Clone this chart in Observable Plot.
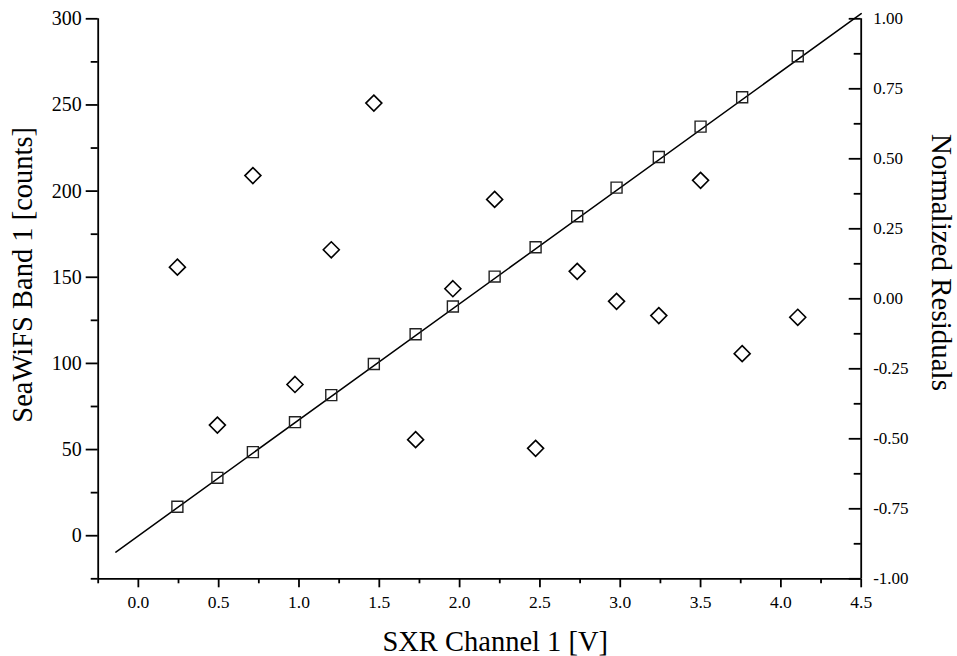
<!DOCTYPE html>
<html><head><meta charset="utf-8">
<script src="https://cdn.jsdelivr.net/npm/d3@7"></script>
<script src="https://cdn.jsdelivr.net/npm/@observablehq/plot@0.6"></script>
<style>
html,body{margin:0;padding:0;background:#fff;}
#chart svg{display:block;}
</style></head><body><div id="chart"></div>
<script>
// Data
const sxr = [0.243,0.492,0.713,0.975,1.201,1.466,1.726,1.958,2.218,2.473,2.732,2.977,3.240,3.500,3.759,4.105];
const counts = [16.8,33.6,48.5,65.9,81.6,99.7,116.9,133.0,150.4,167.4,185.4,202.0,219.8,237.4,254.5,278.3];
const residuals = [0.113,-0.451,0.440,-0.306,0.175,0.699,-0.503,0.036,0.355,-0.534,0.098,-0.009,-0.060,0.423,-0.196,-0.066];
const fitX = [-0.14, 4.5];
const fitY = [-9.5, 303];
const xTicks = [0,0.5,1,1.5,2,2.5,3,3.5,4,4.5];
const xMinor = [-0.25,0.25,0.75,1.25,1.75,2.25,2.75,3.25,3.75,4.25];
const yTicks = [0,50,100,150,200,250,300];
const yMinor = [-25,25,75,125,175,225,275];
const rTicks = [-1,-0.75,-0.5,-0.25,0,0.25,0.5,0.75,1];
const rMinor = [-0.875,-0.625,-0.375,-0.125,0.125,0.375,0.625,0.875];
const xLabel = "SXR Channel 1 [V]";
const yLabel = "SeaWiFS Band 1 [counts]";
const rLabel = "Normalized Residuals";

const points = sxr.map((x, i) => ({sxr: x, counts: counts[i], residual: residuals[i]}));
const fit = fitX.map((x, i) => ({x, y: fitY[i]}));
// residual axis [-1,1] shares the frame of the counts axis [-25,300]
const toY = d3.scaleLinear().domain([-1, 1]).range([-25, 300]);

const W = 957, H = 656;
const mL = 97.7, mR = 96.3, mT = 18.3, mB = 77.7;
const innerW = W - mL - mR;
const SW = 1.8;
const FF = "'Liberation Serif','Times New Roman',Times,serif";

const chart = Plot.plot({
  width: W, height: H,
  marginLeft: mL, marginRight: mR, marginTop: mT, marginBottom: mB,
  style: {fontFamily: FF, background: "#fff", color: "#000", overflow: "visible"},
  x: {domain: [-0.25, 4.5], axis: null},
  y: {domain: [-25, 300], axis: null},
  marks: [
    Plot.ruleX([-0.25], {strokeWidth: SW}),
    Plot.ruleX([4.5], {strokeWidth: SW}),
    Plot.ruleY([-25], {strokeWidth: SW}),
    Plot.axisY(yTicks, {tickSize: 12, tickPadding: 4.5, fontSize: 20, fontFamily: FF, tickFormat: d => String(d), strokeWidth: SW, label: null}),
    Plot.axisY(yMinor, {tickSize: 7, fill: "none", strokeWidth: SW, label: null}),
    Plot.axisX(xTicks, {tickSize: 9, tickPadding: 8, fontSize: 17.5, fontFamily: FF, tickFormat: d => d.toFixed(1), strokeWidth: SW, label: null}),
    Plot.axisX(xMinor, {tickSize: 5, fill: "none", strokeWidth: SW, label: null}),
    Plot.ruleY(rTicks, {y: d => toY(d), insetLeft: innerW - 12, strokeWidth: SW}),
    Plot.ruleY(rMinor, {y: d => toY(d), insetLeft: innerW - 7, strokeWidth: SW}),
    Plot.text(rTicks, {x: 4.5, y: d => toY(d), text: d => d.toFixed(2), textAnchor: "start", dx: 12, fontSize: 17, fontFamily: FF}),
    Plot.line(fit, {x: "x", y: "y", strokeWidth: 1.5, stroke: "#000"}),
    Plot.dot(points, {x: "sxr", y: "counts", symbol: "square", r: 6.2, stroke: "#222", strokeWidth: 1.4, fill: "none"}),
    Plot.dot(points, {x: "sxr", y: d => toY(d.residual), symbol: "diamond2", r: 7.2, stroke: "#000", strokeWidth: 1.6, fill: "none"}),
    Plot.text([xLabel], {frameAnchor: "bottom", textAnchor: "middle", dx: 15.5, dy: 72, lineAnchor: "bottom", fontSize: 28.5, fontFamily: FF}),
    Plot.text([yLabel], {frameAnchor: "left", textAnchor: "middle", rotate: -90, dx: -75.7, dy: -24, lineAnchor: "middle", fontSize: 28.5, fontFamily: FF}),
    Plot.text([rLabel], {frameAnchor: "right", textAnchor: "middle", rotate: 90, dx: 80, dy: -36.3, lineAnchor: "middle", fontSize: 29, fontFamily: FF})
  ]
});
document.getElementById("chart").appendChild(chart);
</script>
</body></html>
